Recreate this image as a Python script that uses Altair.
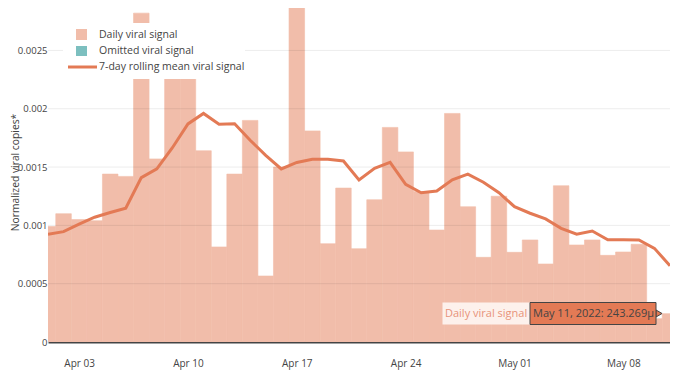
import altair as alt
import pandas as pd

# ---- data ----
dates = pd.date_range("2022-04-01", "2022-05-11", freq="D")
daily = [
    0.00099, 0.00110, 0.00105, 0.00104, 0.00144, 0.00142, 0.00282, 0.00157,
    0.00237, 0.00248, 0.00164, 0.000815, 0.00144, 0.00190, 0.000566, 0.00150,
    0.00290, 0.00181, 0.000843, 0.00132, 0.000800, 0.00122, 0.00184, 0.00163,
    0.00129, 0.00096, 0.00196, 0.00116, 0.000726, 0.00125, 0.000769, 0.000875,
    0.000669, 0.00134, 0.000832, 0.000875, 0.000743, 0.000772, 0.000838, 0.00020,
    0.000243,
]
rolling = [
    0.000923, 0.000946, 0.00101, 0.00107, 0.00111, 0.001147, 0.00141, 0.001484,
    0.001666, 0.00187, 0.00196, 0.001867, 0.001872, 0.00173, 0.00160, 0.001484,
    0.00154, 0.001567, 0.001567, 0.001552, 0.00139, 0.00149, 0.00154, 0.001352,
    0.00128, 0.001295, 0.00139, 0.00144, 0.00137, 0.00128, 0.00116, 0.001104,
    0.001055, 0.000975, 0.000924, 0.000952, 0.000877, 0.000877, 0.000875, 0.000803,
    0.000654,
]
legend_labels = ["Daily viral signal", "Omitted viral signal", "7-day rolling mean viral signal"]
y_ticks = [0, 0.0005, 0.001, 0.0015, 0.002, 0.0025]
tooltip_series = "Daily viral signal"
tooltip_text = "May 11, 2022: 243.269\u03bc"

FONT = "Open Sans"
MAIN = "#e37a55"
BARFILL = "#f1bdaa"
TEAL = "#7cbfbf"
TXT = "#444444"
FMT = "%Y-%m-%dT%H:%M:%S"

df = pd.DataFrame({
    "date": dates.strftime(FMT),
    "start": (dates - pd.Timedelta(hours=12)).strftime(FMT),
    "end": (dates + pd.Timedelta(hours=12)).strftime(FMT),
    "daily": daily,
    "rolling": rolling,
})
grid_df = pd.DataFrame({"v": [v for v in y_ticks if v > 0]})

W, H = 622, 334

xscale = alt.Scale(domain=[alt.DateTime(year=2022, month=4, date=1),
                           alt.DateTime(year=2022, month=5, date=11)])
yscale = alt.Scale(domain=[0, 0.002864], nice=False, zero=True)

xticks = [alt.DateTime(year=2022, month=4, date=d) for d in (3, 10, 17, 24)] + \
         [alt.DateTime(year=2022, month=5, date=d) for d in (1, 8)]

xaxis = alt.Axis(values=xticks, format="%b %d", ticks=False, grid=False,
                 domain=True, domainColor=TXT, domainWidth=2,
                 labelFont=FONT, labelFontSize=10, labelColor=TXT, labelPadding=16)
yaxis = alt.Axis(values=y_ticks, format="~g", ticks=False, domain=False, grid=False,
                 labelFont=FONT, labelFontSize=9.5, labelColor=TXT, labelPadding=1,
                 titleFont=FONT, titleFontSize=10.3, titleColor=TXT, titleFontWeight="normal",
                 titleX=-30, titleY=164, titleBaseline="alphabetic", titleAngle=270)

bars = alt.Chart(df).mark_rect(fill=BARFILL, stroke=BARFILL, strokeWidth=0.6, clip=True).encode(
    x=alt.X("start:T", scale=xscale, axis=xaxis, title=None),
    x2="end:T",
    y=alt.Y("daily:Q", scale=yscale, axis=yaxis, title="Normalized viral copies*"),
    y2=alt.datum(0),
)

grid = alt.Chart(grid_df).mark_rule(color="#000000", opacity=0.075, strokeWidth=1).encode(
    y=alt.Y("v:Q", scale=yscale), x=alt.value(0), x2=alt.value(W))

line = alt.Chart(df).mark_line(color=MAIN, strokeWidth=3, clip=True).encode(
    x=alt.X("date:T", scale=xscale),
    y=alt.Y("rolling:Q", scale=yscale),
)

one = alt.Data(values=[{"a": 1}])

# legend (drawn manually, white box over the bars)
leg_bg = alt.Chart(one).mark_rect(fill="white").encode(
    x=alt.value(15), x2=alt.value(197), y=alt.value(15), y2=alt.value(71))
sq1 = alt.Chart(one).mark_rect(fill=BARFILL).encode(
    x=alt.value(28), x2=alt.value(39), y=alt.value(21), y2=alt.value(32))
sq2 = alt.Chart(one).mark_rect(fill=TEAL).encode(
    x=alt.value(28), x2=alt.value(39), y=alt.value(38), y2=alt.value(48))
lg_line = alt.Chart(one).mark_rule(color=MAIN, strokeWidth=3).encode(
    x=alt.value(20), x2=alt.value(49), y=alt.value(59))
lg_texts = [
    alt.Chart(one).mark_text(text=t, align="left", baseline="middle", font=FONT,
                             fontSize=10.5, color=TXT).encode(x=alt.value(51), y=alt.value(yy))
    for t, yy in zip(legend_labels, (27, 43, 59))
]

# hover label
tip_arrow = alt.Chart(one).mark_point(shape="triangle-right", filled=True, fill=MAIN,
                                      stroke=TXT, strokeWidth=1, size=50, opacity=1).encode(
    x=alt.value(611), y=alt.value(305.5))
tip_box = alt.Chart(one).mark_rect(fill=MAIN, stroke=TXT, strokeWidth=1).encode(
    x=alt.value(482), x2=alt.value(608), y=alt.value(294.5), y2=alt.value(316.5))
tip_name_box = alt.Chart(one).mark_rect(fill="#fdf1ec").encode(
    x=alt.value(394.5), x2=alt.value(482), y=alt.value(294.5), y2=alt.value(316.5))
tip_name = alt.Chart(one).mark_text(text=tooltip_series, align="left", baseline="middle",
                                    font=FONT, fontSize=11, color="#e8937a").encode(
    x=alt.value(397), y=alt.value(305.5))
tip_val = alt.Chart(one).mark_text(text=tooltip_text, align="left", baseline="middle",
                                   font=FONT, fontSize=11, color=TXT).encode(
    x=alt.value(485), y=alt.value(305.5))

chart = alt.layer(
    bars, grid, line, leg_bg, sq1, sq2, lg_line, *lg_texts,
    tip_name_box, tip_arrow, tip_box, tip_name, tip_val,
).properties(
    width=W, height=H,
    autosize=alt.AutoSizeParams(type="none"),
    padding={"left": 40, "top": 0, "right": 0, "bottom": 28},
).configure(font=FONT, view=alt.ViewConfig(stroke=None))

chart.save("out.html", embed_options={"renderer": "svg", "actions": False})
